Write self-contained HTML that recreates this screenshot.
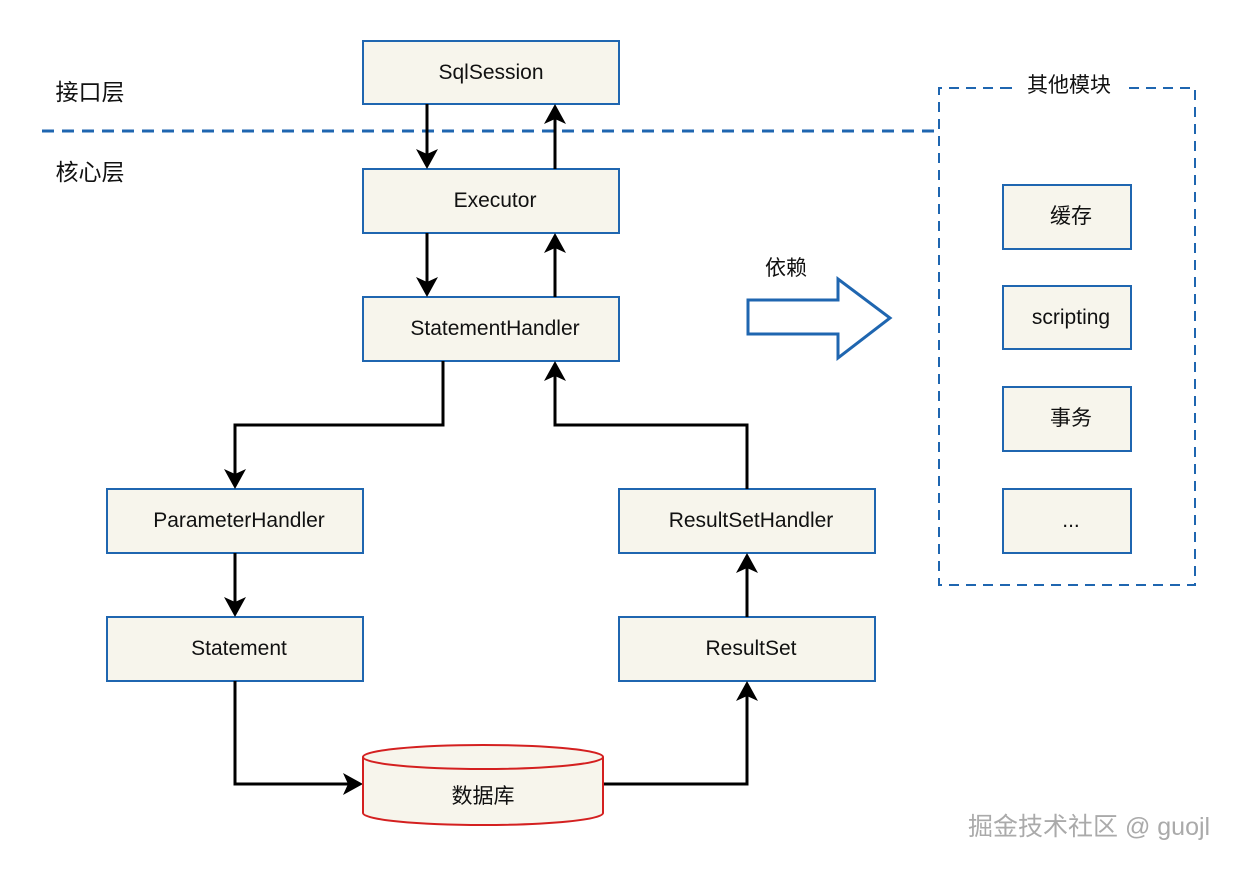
<!DOCTYPE html>
<html><head><meta charset="utf-8"><style>
html,body{margin:0;padding:0;background:#fff;}
svg text{font-family:"Liberation Sans","Noto Sans CJK SC",sans-serif;}
</style></head><body>
<svg width="1236" height="866" viewBox="0 0 1236 866" xmlns="http://www.w3.org/2000/svg">
<g fill="#f7f5ec" stroke="#1f66b0" stroke-width="2">
<rect x="363" y="41" width="256" height="63"/>
<rect x="363" y="169" width="256" height="64"/>
<rect x="363" y="297" width="256" height="64"/>
<rect x="107" y="489" width="256" height="64"/>
<rect x="107" y="617" width="256" height="64"/>
<rect x="619" y="489" width="256" height="64"/>
<rect x="619" y="617" width="256" height="64"/>
<rect x="1003" y="185" width="128" height="64"/>
<rect x="1003" y="286" width="128" height="63"/>
<rect x="1003" y="387" width="128" height="64"/>
<rect x="1003" y="489" width="128" height="64"/>
</g>
<line x1="42" y1="131" x2="935" y2="131" stroke="#1f66b0" stroke-width="3" stroke-dasharray="12,8"/>
<path d="M1010 88 H1195 V585 H939 V88 H1012" fill="none" stroke="#1f66b0" stroke-width="2" stroke-dasharray="10,7"/>
<rect x="1012" y="75" width="112" height="25" fill="#fff"/>
<g stroke="#000" stroke-width="3" fill="none">
<path d="M427 104 V155"/><path d="M555 169 V118"/>
<path d="M427 233 V283"/><path d="M555 297 V247"/>
<path d="M443 361 V425 H235 V475"/>
<path d="M747 489 V425 H555 V375"/>
<path d="M235 553 V603"/>
<path d="M235 681 V784 H349"/>
<path d="M603 784 H747 V695"/>
<path d="M747 617 V567"/>
</g>
<g fill="#000">
<path d="M427 169 L416 149 L427 154 L438 149Z"/>
<path d="M555 104 L544 124 L555 119 L566 124Z"/>
<path d="M427 297 L416 277 L427 282 L438 277Z"/>
<path d="M555 233 L544 253 L555 248 L566 253Z"/>
<path d="M235 489 L224 469 L235 474 L246 469Z"/>
<path d="M555 361 L544 381 L555 376 L566 381Z"/>
<path d="M235 617 L224 597 L235 602 L246 597Z"/>
<path d="M363 784 L343 773 L348 784 L343 795Z"/>
<path d="M747 681 L736 701 L747 696 L758 701Z"/>
<path d="M747 553 L736 573 L747 568 L758 573Z"/>
</g>
<path d="M363 757 V813 A120 12 0 0 0 603 813 V757 A120 12 0 0 0 363 757 A120 12 0 0 0 603 757" fill="#f7f5ec" stroke="#d42020" stroke-width="2"/>
<path d="M748 300 H838 V279 L890 318 L838 358 V334 H748 Z" fill="#fff" stroke="#1f66b0" stroke-width="3"/>
<g font-size="21" fill="#111" text-anchor="middle">
<text x="491" y="79">SqlSession</text>
<text x="495" y="207">Executor</text>
<text x="495" y="335">StatementHandler</text>
<text x="239" y="527">ParameterHandler</text>
<text x="239" y="655">Statement</text>
<text x="751" y="527">ResultSetHandler</text>
<text x="751" y="655">ResultSet</text>
<text x="1071" y="223">缓存</text>
<text x="1071" y="324">scripting</text>
<text x="1071" y="425">事务</text>
<text x="1071" y="527">...</text>
<text x="483" y="803">数据库</text>
<text x="1069" y="92">其他模块</text>
<text x="786" y="275">依赖</text>
<text x="90" y="100" font-size="23">接口层</text>
<text x="90" y="180" font-size="23">核心层</text>
</g>
<text x="968" y="835" font-size="25" fill="#aaa">掘金技术社区 @ guojl</text>
</svg>
</body></html>
